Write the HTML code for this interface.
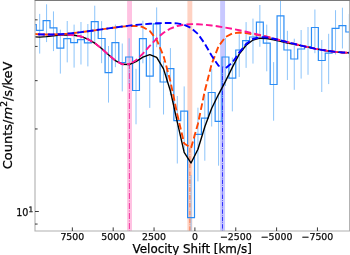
<!DOCTYPE html>
<html><head><meta charset="utf-8"><style>html,body{margin:0;padding:0;background:#fff;}svg{display:block;}</style></head>
<body><svg width="350" height="255" viewBox="0 0 350 255"><rect width="350" height="255" fill="#fff"/><defs><clipPath id="ax"><rect x="35.0" y="0.5" width="314.6" height="230.5"/></clipPath><clipPath id="bl"><rect x="0" y="0" width="222.7" height="255"/></clipPath><clipPath id="br"><rect x="222.7" y="0" width="130" height="255"/></clipPath><clipPath id="ml"><rect x="0" y="0" width="130" height="255"/></clipPath><clipPath id="mr"><rect x="130" y="0" width="300" height="255"/></clipPath></defs><g clip-path="url(#ax)"><rect x="127.1" y="0" width="4.9" height="255" fill="#ffc2e2"/><rect x="187.4" y="0" width="4.9" height="255" fill="#ffd2c2"/><rect x="220.15" y="0" width="4.9" height="255" fill="#c8c8ff"/><path d="M39.7,13.9V53.6M46.58,4.3V42.1M53.46,11.4V51.1M60.34,29.7V73.6M67.22,21V62.4M74.1,24.6V67.6M80.98,22V64.5M87.86,24V66.4M94.74,5.7V44M101.62,21.1V63.2M108.5,46V102.6M115.38,24.6V67.2M122.26,43.5V91.4M129.14,38.3V84M136.02,68.8V124.3M142.9,20.7V63.3M149.78,56V107.9M156.66,7.4V47.2M163.54,61V114.5M170.42,48.1V95M177.3,96V163.5M184.18,86.4V151M191.06,175V260M197.94,107.7V181.4M204.82,95V160.7M211.7,69.1V126.5M218.58,95V165.7M225.46,38V86M232.34,57.6V111.4M239.22,34.3V77M246.1,22.1V67.9M252.98,18.6V63.6M259.86,5V46.8M266.74,24.6V71.3M273.62,62.1V120.7M280.5,-5V42M287.38,30.8V80M294.26,38.7V89.8M301.14,30V78.6M308.02,27V74.8M314.9,9.5V53.2M321.78,40V92M328.66,33.8V84.1M335.54,10.2V54.5M342.42,7.7V48.5M349.3,14V58" stroke="#8cc4fa" stroke-width="1" fill="none"/><path d="M29.38,24.6 L36.26,24.6 L36.26,30.4 L43.14,30.4 L43.14,20.7 L50.02,20.7 L50.02,27.9 L56.9,27.9 L56.9,48.1 L63.78,48.1 L63.78,38.6 L70.66,38.6 L70.66,42.6 L77.54,42.6 L77.54,39.7 L84.42,39.7 L84.42,42.9 L91.3,42.9 L91.3,21.7 L98.18,21.7 L98.18,38.5 L105.06,38.5 L105.06,72.6 L111.94,72.6 L111.94,42.7 L118.82,42.7 L118.82,62.5 L125.7,62.5 L125.7,57 L132.58,57 L132.58,90.5 L139.46,90.5 L139.46,38.6 L146.34,38.6 L146.34,76.1 L153.22,76.1 L153.22,23.8 L160.1,23.8 L160.1,82 L166.98,82 L166.98,68.6 L173.86,68.6 L173.86,120.6 L180.74,120.6 L180.74,111.1 L187.62,111.1 L187.62,217.6 L194.5,217.6 L194.5,134.4 L201.38,134.4 L201.38,118.1 L208.26,118.1 L208.26,92.5 L215.14,92.5 L215.14,121.4 L222.02,121.4 L222.02,57 L228.9,57 L228.9,78.2 L235.78,78.2 L235.78,50 L242.66,50 L242.66,40.7 L249.54,40.7 L249.54,37 L256.42,37 L256.42,22.1 L263.3,22.1 L263.3,43.1 L270.18,43.1 L270.18,84.5 L277.06,84.5 L277.06,15.8 L283.94,15.8 L283.94,50 L290.82,50 L290.82,59 L297.7,59 L297.7,49 L304.58,49 L304.58,46.5 L311.46,46.5 L311.46,27.5 L318.34,27.5 L318.34,60.5 L325.22,60.5 L325.22,53.2 L332.1,53.2 L332.1,28.4 L338.98,28.4 L338.98,25.6 L345.86,25.6 L345.86,32 L352.74,32" stroke="#2a8cf5" stroke-width="1.2" fill="none"/><line x1="129.4" y1="64.01" x2="129.4" y2="232.0" stroke="#f0309a" stroke-width="0.943" stroke-dasharray="6.04 1.51 0.94 1.51" stroke-dashoffset="1.06"/><line x1="189.9" y1="147.18" x2="189.9" y2="232.0" stroke="#f56a3a" stroke-width="0.9" stroke-dasharray="4.74 1.18 0.74 1.18" stroke-dashoffset="7.08"/><line x1="222.5" y1="67.3" x2="222.5" y2="232.0" stroke="#2020ff" stroke-width="0.9" stroke-dasharray="4.48 1.12 0.7 1.12" stroke-dashoffset="6.36"/><polyline points="32.82,36.78 39.7,37.09 46.58,36.59 53.46,35.79 60.34,35.12 67.22,34.87 74.1,35.25 80.98,36.53 87.86,39.06 94.74,43.09 101.62,48.56 108.5,54.83 115.38,60.62 122.26,64.27 129.14,64.54 136.02,61.55 142.9,57.2 149.78,54.65 156.66,57.46 163.54,68.9 170.42,90.99 177.3,122.16 184.18,152.31 191.06,163.03 197.94,149.21 204.82,126.82 211.7,108.22 218.58,94.31 225.46,81.33 232.34,67.32 239.22,54.16 246.1,45.22 252.98,40.06 259.86,38.18 266.74,38.44 273.62,39.72 280.5,41.38 287.38,43.14 294.26,44.26 301.14,45.58 308.02,47.17 314.9,48.63 321.78,49.92 328.66,51.02 335.54,51.87 342.42,52.44 349.3,52.68 356.18,52.55" stroke="#000" stroke-width="1.4" fill="none" stroke-linejoin="round"/><polyline points="32.82,33.85 39.7,34.35 46.58,34.54 53.46,34.45 60.34,34.13 67.22,33.62 74.1,32.95 80.98,32.16 87.86,31.28 94.74,30.33 101.62,29.36 108.5,28.39 115.38,27.45 122.26,26.59 129.14,25.95 136.02,25.86 142.9,27.07 149.78,30.97 156.66,39.73 163.54,55.92 170.42,81.4 177.3,114.41 184.18,143.52 191.06,147.92 197.94,123.8 204.82,90.9 211.7,63.86 218.58,46.21 225.46,37.02 232.34,33.45 239.22,32.49 246.1,33.12 252.98,34.19 259.86,35.22 266.74,36.77 273.62,38.55 280.5,40.35 287.38,42.14 294.26,43.89 301.14,45.58 308.02,47.17 314.9,48.63 321.78,49.92 328.66,51.02 335.54,51.87 342.42,52.44 349.3,52.68 356.18,52.55" stroke="#ff4500" stroke-width="1.9" fill="none" stroke-dasharray="6.7 3.1" stroke-dashoffset="-0.6"/><polyline points="32.82,33.85 39.7,34.37 46.58,34.6 53.46,34.63 60.34,34.59 67.22,34.68 74.1,35.19 80.98,36.52 87.86,39.06 94.74,43.09 101.62,48.56 108.5,54.82 115.38,60.6 122.26,64.18 129.14,64.16 136.02,60.28 142.9,53.61 149.78,45.86 156.66,38.58 163.54,32.71 170.42,28.55 177.3,25.95 184.18,24.6 191.06,24.13 197.94,24.24 204.82,24.74 211.7,25.5 218.58,26.46 225.46,27.58 232.34,28.85 239.22,30.24 246.1,31.74 252.98,33.34 259.86,35.03 266.74,36.77 273.62,38.55 280.5,40.35 287.38,42.14 294.26,43.89 301.14,45.58 308.02,47.17 314.9,48.63 321.78,49.92 328.66,51.02 335.54,51.87 342.42,52.44 349.3,52.68 356.18,52.55" clip-path="url(#ml)" stroke="#ff1493" stroke-width="1.9" fill="none" stroke-dasharray="6.7 3.1" stroke-dashoffset="-5.2"/><polyline points="32.82,33.85 39.7,34.37 46.58,34.6 53.46,34.63 60.34,34.59 67.22,34.68 74.1,35.19 80.98,36.52 87.86,39.06 94.74,43.09 101.62,48.56 108.5,54.82 115.38,60.6 122.26,64.18 129.14,64.16 136.02,60.28 142.9,53.61 149.78,45.86 156.66,38.58 163.54,32.71 170.42,28.55 177.3,25.95 184.18,24.6 191.06,24.13 197.94,24.24 204.82,24.74 211.7,25.5 218.58,26.46 225.46,27.58 232.34,28.85 239.22,30.24 246.1,31.74 252.98,33.34 259.86,35.03 266.74,36.77 273.62,38.55 280.5,40.35 287.38,42.14 294.26,43.89 301.14,45.58 308.02,47.17 314.9,48.63 321.78,49.92 328.66,51.02 335.54,51.87 342.42,52.44 349.3,52.68 356.18,52.55" clip-path="url(#mr)" stroke="#ff1493" stroke-width="1.9" fill="none" stroke-dasharray="6.7 3.1" stroke-dashoffset="-0.48"/><polyline points="32.82,33.85 39.7,34.35 46.58,34.54 53.46,34.45 60.34,34.13 67.22,33.62 74.1,32.95 80.98,32.16 87.86,31.28 94.74,30.33 101.62,29.36 108.5,28.39 115.38,27.44 122.26,26.53 129.14,25.68 136.02,24.92 142.9,24.26 149.78,23.72 156.66,23.31 163.54,23.05 170.42,23.02 177.3,23.41 184.18,24.72 191.06,27.85 197.94,33.99 204.82,43.76 211.7,55.81 218.58,65.8 225.46,68.43 232.34,62.51 239.22,52.65 246.1,44.04 252.98,38.96 259.86,37.16 266.74,37.44 273.62,38.72 280.5,40.38 287.38,42.14 294.26,43.89 301.14,45.58 308.02,47.17 314.9,48.63 321.78,49.92 328.66,51.02 335.54,51.87 342.42,52.44 349.3,52.68 356.18,52.55" clip-path="url(#bl)" stroke="#0000ff" stroke-width="1.9" fill="none" stroke-dasharray="6.7 3.1" stroke-dashoffset="-5.3"/><polyline points="32.82,33.85 39.7,34.35 46.58,34.54 53.46,34.45 60.34,34.13 67.22,33.62 74.1,32.95 80.98,32.16 87.86,31.28 94.74,30.33 101.62,29.36 108.5,28.39 115.38,27.44 122.26,26.53 129.14,25.68 136.02,24.92 142.9,24.26 149.78,23.72 156.66,23.31 163.54,23.05 170.42,23.02 177.3,23.41 184.18,24.72 191.06,27.85 197.94,33.99 204.82,43.76 211.7,55.81 218.58,65.8 225.46,68.43 232.34,62.51 239.22,52.65 246.1,44.04 252.98,38.96 259.86,37.16 266.74,37.44 273.62,38.72 280.5,40.38 287.38,42.14 294.26,43.89 301.14,45.58 308.02,47.17 314.9,48.63 321.78,49.92 328.66,51.02 335.54,51.87 342.42,52.44 349.3,52.68 356.18,52.55" clip-path="url(#br)" stroke="#0000ff" stroke-width="1.9" fill="none" stroke-dasharray="6.7 3.1" stroke-dashoffset="-9.03"/></g><path d="M35.0,1.0V231.0H349.6V1.0" stroke="#b0b0b0" stroke-width="1.1" fill="none"/><path d="M34.5,0.5H350.1" stroke="#7a7a7a" stroke-width="1"/><path d="M72.35,231.0v-3.6M113.2,231.0v-3.6M154.05,231.0v-3.6M194.9,231.0v-3.6M235.75,231.0v-3.6M276.6,231.0v-3.6M317.45,231.0v-3.6M35.0,211.5h3.8M35.0,224.05h2.6M35.0,128.96h2.6M35.0,80.67h2.6M35.0,46.42h2.6M35.0,19.84h2.6" stroke="#222" stroke-width="0.9"/><text x="72.35" y="240" font-family="DejaVu Sans, Liberation Sans, sans-serif" font-size="9.4" text-anchor="middle" fill="#111" stroke="#000" stroke-width="0.25">7500</text><text x="113.2" y="240" font-family="DejaVu Sans, Liberation Sans, sans-serif" font-size="9.4" text-anchor="middle" fill="#111" stroke="#000" stroke-width="0.25">5000</text><text x="154.05" y="240" font-family="DejaVu Sans, Liberation Sans, sans-serif" font-size="9.4" text-anchor="middle" fill="#111" stroke="#000" stroke-width="0.25">2500</text><text x="194.9" y="240" font-family="DejaVu Sans, Liberation Sans, sans-serif" font-size="9.4" text-anchor="middle" fill="#111" stroke="#000" stroke-width="0.25">0</text><text x="235.75" y="240" font-family="DejaVu Sans, Liberation Sans, sans-serif" font-size="9.4" text-anchor="middle" fill="#111" stroke="#000" stroke-width="0.25">−2500</text><text x="276.6" y="240" font-family="DejaVu Sans, Liberation Sans, sans-serif" font-size="9.4" text-anchor="middle" fill="#111" stroke="#000" stroke-width="0.25">−5000</text><text x="317.45" y="240" font-family="DejaVu Sans, Liberation Sans, sans-serif" font-size="9.4" text-anchor="middle" fill="#111" stroke="#000" stroke-width="0.25">−7500</text><text x="28.4" y="215.5" font-family="DejaVu Sans, Liberation Sans, sans-serif" font-size="9.6" text-anchor="end" fill="#111" stroke="#000" stroke-width="0.25">10</text><text x="28.5" y="211.9" font-family="DejaVu Sans, Liberation Sans, sans-serif" font-size="7.4" fill="#111" stroke="#000" stroke-width="0.25">1</text><text x="192.2" y="252.5" font-family="DejaVu Sans, Liberation Sans, sans-serif" font-size="11.9" text-anchor="middle" fill="#000" stroke="#000" stroke-width="0.25">Velocity Shift [km/s]</text><text transform="translate(11.6,115.4) rotate(-90)" font-family="DejaVu Sans, Liberation Sans, sans-serif" font-size="13.0" text-anchor="middle" fill="#000" stroke="#000" stroke-width="0.25">Counts/<tspan font-style="italic">m</tspan><tspan font-size="9.2" dy="-4.8">2</tspan><tspan dy="4.8">/s/keV</tspan></text></svg></body></html>
